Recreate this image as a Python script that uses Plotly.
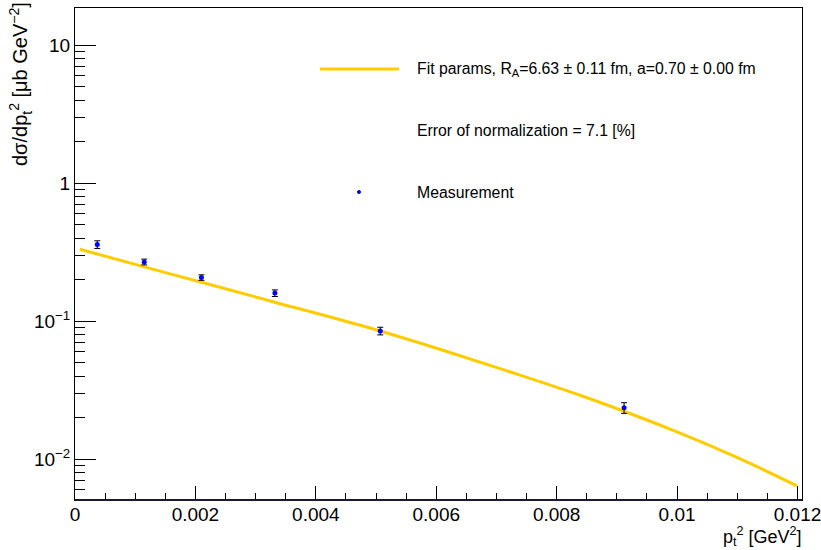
import plotly.graph_objects as go

# ---- data ----
meas_pt2 = [0.00037, 0.00115, 0.0021, 0.00332, 0.00507, 0.00912]
meas_xs = [0.360, 0.269, 0.2075, 0.160, 0.0851, 0.0236]
meas_err = [0.023, 0.013, 0.0095, 0.0088, 0.0054, 0.0021]

fit_pt2 = [0.00008, 0.00115, 0.0021, 0.00332, 0.00474, 0.0059, 0.00706, 0.00839, 0.01005, 0.01105, 0.01199]
fit_xs = [0.3327, 0.2478, 0.1917, 0.1375, 0.0935, 0.0659, 0.0454, 0.0291, 0.01549, 0.01007, 0.00641]

x_ticks = [0, 0.002, 0.004, 0.006, 0.008, 0.01, 0.012]
x_tick_text = ["0", "0.002", "0.004", "0.006", "0.008", "0.01", "0.012"]
y_ticks = [0.01, 0.1, 1, 10]
y_tick_text = ["10<sup>\u22122</sup>", "10<sup>\u22121</sup>", "1", "10"]

legend_fit = "Fit params, R<sub>A</sub>=6.63 \u00b1 0.11 fm, a=0.70 \u00b1 0.00 fm"
legend_norm = "Error of normalization = 7.1 [%]"
legend_meas = "Measurement"

FONT = "Liberation Sans, Arial, sans-serif"
W, H = 821, 550
L, R, T, B = 75, 19, 8, 50
PW, PH = W - L - R, H - T - B

def px(x):
    return (x - L) / PW

def py(y):
    return (H - B - y) / PH

fig = go.Figure()
fig.add_trace(go.Scatter(
    x=fit_pt2, y=fit_xs, mode="lines", line=dict(color="#FFCC00", width=3, shape="spline", smoothing=1.0),
    showlegend=False, hoverinfo="skip"))
fig.add_trace(go.Scatter(
    x=meas_pt2, y=meas_xs, mode="markers",
    marker=dict(color="#0000FF", size=5),
    error_y=dict(type="data", array=meas_err, visible=True, color="black", thickness=1, width=3),
    showlegend=False))

minor_y = [m * 10 ** e for e in range(-3, 2) for m in range(2, 10)]
minor_x = [i * 0.0005 for i in range(0, 25)]

fig.update_xaxes(
    range=[0, 0.012075], tickvals=x_ticks, ticktext=x_tick_text, automargin=False,
    ticks="inside", ticklen=14, tickwidth=1, tickcolor="black", ticklabeloverflow="allow",
    ticklabelstandoff=-3,
    minor=dict(tickvals=minor_x, ticks="inside", ticklen=7, tickwidth=1, tickcolor="black", showgrid=False),
    showline=True, linecolor="black", linewidth=1, mirror=True,
    showgrid=False, zeroline=False, tickfont=dict(family=FONT, size=19, color="black"))
fig.update_yaxes(
    type="log", range=[-2.295, 1.270], tickvals=y_ticks, ticktext=y_tick_text, automargin=False,
    ticks="inside", ticklen=21, tickwidth=1, tickcolor="black", ticklabeloverflow="allow",
    minor=dict(tickvals=minor_y, ticks="inside", ticklen=10, tickwidth=1, tickcolor="black", showgrid=False),
    showline=True, linecolor="black", linewidth=1, mirror=True,
    showgrid=False, zeroline=False, tickfont=dict(family=FONT, size=19, color="black"))

shapes = [
    dict(type="line", xref="paper", yref="paper", x0=px(320), x1=px(399), y0=py(69), y1=py(69),
         line=dict(color="#FFCC00", width=3)),
    dict(type="circle", xref="paper", yref="paper", x0=px(357.5), x1=px(360.5), y0=py(190.5), y1=py(193.5),
         fillcolor="#0000FF", line=dict(color="#0000FF", width=1)),
    dict(type="line", xref="paper", yref="paper", x0=0, x1=1, y0=0, y1=0,
         line=dict(color="#1a1a33", width=2)),
]
annotations = [
    dict(text=legend_fit, x=px(415), y=py(69), xref="paper", yref="paper", xanchor="left", yanchor="middle",
         showarrow=False, font=dict(family=FONT, size=15.8, color="black")),
    dict(text=legend_norm, x=px(415), y=py(130), xref="paper", yref="paper", xanchor="left", yanchor="middle",
         showarrow=False, font=dict(family=FONT, size=15.8, color="black")),
    dict(text=legend_meas, x=px(415), y=py(192), xref="paper", yref="paper", xanchor="left", yanchor="middle",
         showarrow=False, font=dict(family=FONT, size=15.8, color="black")),
    dict(text="p<sub>t</sub><sup>2</sup> [GeV<sup>2</sup>]", x=px(803), y=py(549.5), xref="paper", yref="paper",
         xanchor="right", yanchor="bottom", showarrow=False, borderpad=0,
         font=dict(family=FONT, size=18, color="black")),
    dict(text="d\u03c3/dp<sub>t</sub><sup>2</sup> [\u03bcb GeV<sup>\u22122</sup>]", x=px(21), y=py(0),
         xref="paper", yref="paper", xanchor="center", yanchor="top", textangle=-90,
         showarrow=False, font=dict(family=FONT, size=20, color="black")),
]

fig.update_layout(
    width=W, height=H, margin=dict(l=L, r=R, t=T, b=B),
    paper_bgcolor="white", plot_bgcolor="white",
    shapes=shapes, annotations=annotations, showlegend=False)

fig.write_html("out.html")
